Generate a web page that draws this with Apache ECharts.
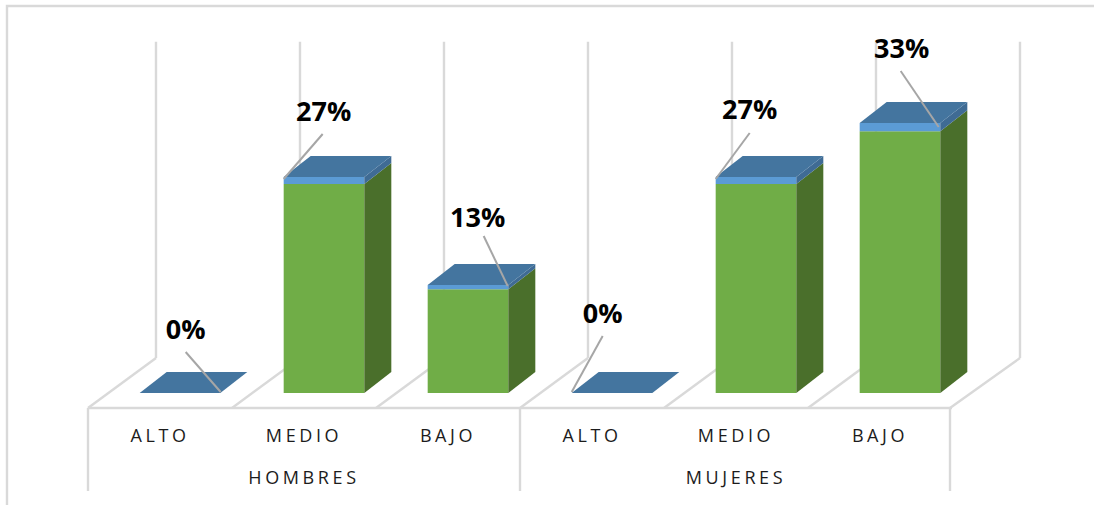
<!DOCTYPE html>
<html><head><meta charset="utf-8">
<style>
html,body{margin:0;padding:0;background:#fff}
#chart{width:1094px;height:505px}
/* axis text is spaced out in the reference; 18px is used only by the axis labels */
#chart text[style*="18px"]{letter-spacing:3.6px}
</style>
<script src="https://cdn.jsdelivr.net/npm/echarts@6/dist/echarts.min.js"></script>
</head><body><div id="chart"></div>
<script>
const categories = ['ALTO','MEDIO','BAJO','ALTO','MEDIO','BAJO'];
const groups = ['HOMBRES','MUJERES'];
const greenValues = [0, 25.8, 12.8, 0, 25.8, 32.3];
const blueValues = [0, 0.87, 0.53, 0, 0.87, 1.03];
const valueLabels = ['0%','27%','13%','0%','27%','33%'];

const FONT = '"Open Sans"';
const GREY = '#D9D9D9';
const DX = 27, DY = 21;         // bar depth projection
const BX = 68, BY = 50;         // floor depth projection
const FRONT_Y_OFFSET = 15;      // floor front edge below the bar base
const WALL_TOP = 43.35;         // height of the back wall, in axis units
// label centre + leader line relative to the bar's front-top-left corner
const leaders = [
  {cx: 46, cy:-65, x1: 46, y1:-41, x2: 81, y2:-1},
  {cx: 40, cy:-66, x1: 39, y1:-43, x2: 0, y2: 2},
  {cx: 50, cy:-69, x1: 56, y1:-49, x2: 80, y2: 1},
  {cx: 31, cy:-81, x1: 31, y1:-57, x2: 0, y2:-1},
  {cx: 34, cy:-68, x1: 34, y1:-44, x2: 0, y2: 2},
  {cx: 42, cy:-76, x1: 41, y1:-52, x2: 79, y2: 4}
];

function line(x1,y1,x2,y2,w,c){
  return {type:'line',shape:{x1,y1,x2,y2},style:{stroke:c||GREY,lineWidth:w||2.4},silent:true};
}
function poly(points,fill){
  return {type:'polygon',shape:{points},style:{fill,stroke:null},silent:true};
}

function renderFrame(params, api){
  const i = api.value(0);
  const base = api.coord([i, 0]);
  const top = api.coord([i, WALL_TOP]);
  const band = api.size([1, 0])[0];
  const fx = base[0] - band/2 - 20;       // front floor tick
  const fy = base[1] + FRONT_Y_OFFSET;
  const kids = [
    line(fx+BX, fy-BY, fx+BX, top[1]),
    line(fx, fy, fx+BX, fy-BY)
  ];
  if (i === 5){
    const ex = fx + band - 2;
    kids.push(line(ex+BX+2, fy-BY, ex+BX+2, top[1]));
    kids.push(line(ex, fy, ex+BX+2, fy-BY));
    kids.push(line(ex, fy, ex, fy+83));
  }
  kids.push(line(fx, fy, fx+band, fy));
  if (i === 0 || i === 3) kids.push(line(fx, fy, fx, fy+83));
  return {type:'group',children:kids};
}

function renderBar(params, api){
  const i = api.value(0);
  const g = api.value(1), b = api.value(2);
  const p0 = api.coord([i, 0]);
  const pg = api.coord([i, g]);
  const pt = api.coord([i, g + b]);
  const w = api.size([1, 0])[0] * 0.56;
  const L = p0[0] - w/2, R = p0[0] + w/2;
  const kids = [];
  if (g + b > 0){
    kids.push(poly([[L,pg[1]],[R,pg[1]],[R,p0[1]],[L,p0[1]]],'#70AD47'));
    kids.push(poly([[R,pg[1]],[R+DX,pg[1]-DY],[R+DX,p0[1]-DY],[R,p0[1]]],'#4A6F2B'));
    kids.push(poly([[L,pt[1]],[R,pt[1]],[R,pg[1]],[L,pg[1]]],'#5B9BD5'));
    kids.push(poly([[R,pt[1]],[R+DX,pt[1]-DY],[R+DX,pg[1]-DY],[R,pg[1]]],'#3F6B94'));
  }
  kids.push(poly([[L,pt[1]],[R,pt[1]],[R+DX,pt[1]-DY],[L+DX,pt[1]-DY]],'#44759F'));
  const k = leaders[i];
  kids.push(line(L+k.x1,pt[1]+k.y1,L+k.x2,pt[1]+k.y2,2,'#A6A6A6'));
  kids.push({type:'text',silent:true,style:{
    text:valueLabels[i],x:L+k.cx,y:pt[1]+k.cy,align:'center',verticalAlign:'middle',
    font:'bold 27px '+FONT,fill:'#000'}});
  return {type:'group',children:kids};
}

const chart = echarts.init(document.getElementById('chart'),null,{renderer:'svg'});
const idx = categories.map((_,i)=>i);
const hiddenAxis = {axisLine:{show:false},axisTick:{show:false},splitLine:{show:false}};
const labelStyle = {interval:0,color:'#1c1c1c',fontFamily:FONT,fontSize:18,
  verticalAlign:'middle',lineHeight:18,padding:0};
chart.setOption({
  animation:false,
  backgroundColor:'#fff',
  grid:[
    {left:108,top:28.5,width:864,height:364.5},
    {left:88,top:28.5,width:864,height:364.5}   // axis labels sit on the floor's front edge
  ],
  xAxis:[
    Object.assign({type:'category',data:categories,gridIndex:0,axisLabel:{show:false}},hiddenAxis),
    Object.assign({type:'category',data:categories,gridIndex:1,position:'bottom',
      axisLabel:Object.assign({margin:42},labelStyle)},hiddenAxis),
    Object.assign({type:'category',data:groups,gridIndex:1,position:'bottom',
      axisLabel:Object.assign({margin:84},labelStyle)},hiddenAxis)
  ],
  yAxis:[
    {type:'value',min:0,max:45,interval:5,show:false,gridIndex:0},
    {type:'value',min:0,max:45,interval:5,show:false,gridIndex:1}
  ],
  series:[
    {type:'custom',name:'frame',xAxisIndex:0,yAxisIndex:0,coordinateSystem:'cartesian2d',renderItem:renderFrame,
     data:idx.map(i=>[i]),encode:{x:0},silent:true,z:1},
    {type:'custom',name:'bars',xAxisIndex:0,yAxisIndex:0,coordinateSystem:'cartesian2d',renderItem:renderBar,
     data:idx.map(i=>[i,greenValues[i],blueValues[i]]),encode:{x:0,y:[1,2]},silent:true,z:2}
  ],
  graphic:[{type:'rect',z:0,silent:true,shape:{x:7,y:6,width:1200,height:600},
    style:{fill:'none',stroke:GREY,lineWidth:2.4}}]
});
</script></body></html>
